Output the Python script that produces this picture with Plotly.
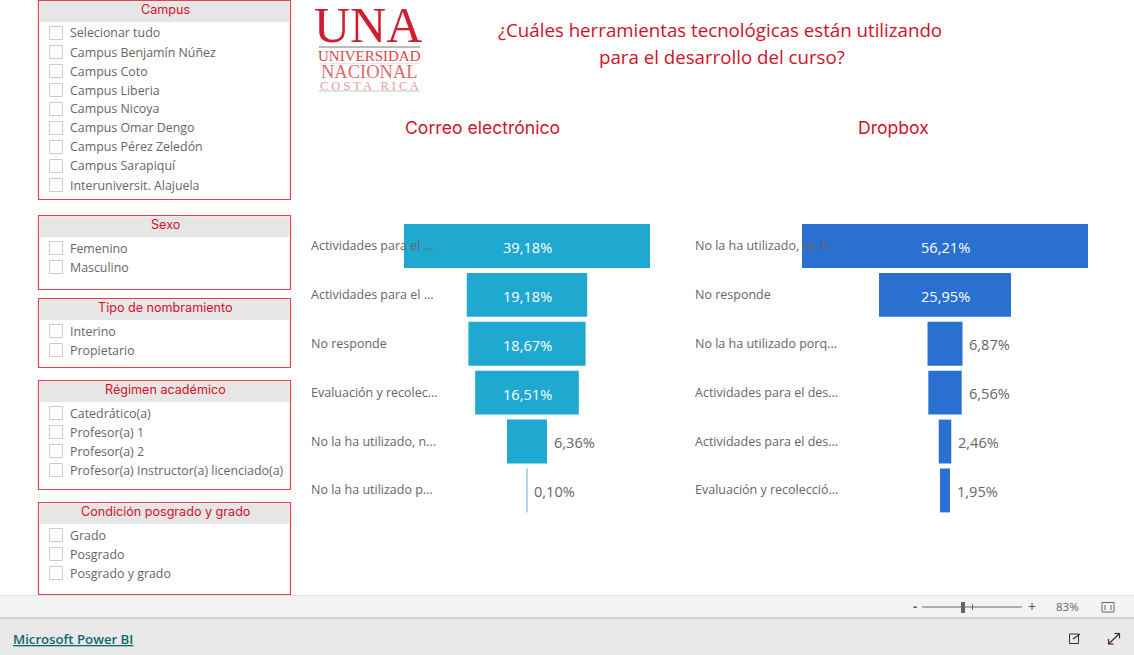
import plotly.graph_objects as go

W, H = 1134, 655
RED = "#d0112b"
BORDER = "#e5404b"
GRAY_TXT = "#666666"
LABEL_FONT = "Open Sans"
HEAD_FONT = "Inter"

# ---- data ----
correo_labels = ["Actividades para el ...", "Actividades para el ...", "No responde",
                 "Evaluación y recolec...", "No la ha utilizado, n...", "No la ha utilizado p..."]
correo_values = [39.18, 19.18, 18.67, 16.51, 6.36, 0.10]
correo_inside = [True, True, True, True, False, False]
correo_colors = ["#1fa8d0", "#1fa8d0", "#1fa8d0", "#1fa8d0", "#1fa8d0", "#a9d9ea"]

dropbox_labels = ["No la ha utilizado, no h...", "No responde", "No la ha utilizado porq...",
                  "Actividades para el des...", "Actividades para el des...", "Evaluación y recolecció..."]
dropbox_values = [56.21, 25.95, 6.87, 6.56, 2.46, 1.95]
dropbox_inside = [True, True, False, False, False, False]
dropbox_colors = ["#2a70d0"] * 6

ranks = [0, 1, 2, 3, 4, 5]

slicers = [
    ("Campus", ["Selecionar tudo", "Campus Benjamín Núñez", "Campus Coto", "Campus Liberia", "Campus Nicoya",
                "Campus Omar Dengo", "Campus Pérez Zeledón", "Campus Sarapiquí", "Interuniversit. Alajuela"], 0, 199),
    ("Sexo", ["Femenino", "Masculino"], 215, 289),
    ("Tipo de nombramiento", ["Interino", "Propietario"], 298, 367),
    ("Régimen académico", ["Catedrático(a)", "Profesor(a) 1", "Profesor(a) 2",
                           "Profesor(a) Instructor(a) licenciado(a)"], 380, 489),
    ("Condición posgrado y grado", ["Grado", "Posgrado", "Posgrado y grado"], 502, 594),
]

# ---- helpers in page pixels ----
px = lambda x: x / W
py = lambda y: 1 - y / H
shapes, ann = [], []


def rect(x0, y0, x1, y1, fill="rgba(0,0,0,0)", line=None, lw=1):
    shapes.append(dict(type="rect", xref="paper", yref="paper", x0=px(x0), x1=px(x1), y0=py(y0), y1=py(y1),
                       fillcolor=fill, line=dict(color=line or "rgba(0,0,0,0)", width=lw if line else 0)))


def seg(x0, y0, x1, y1, color, lw=1):
    shapes.append(dict(type="line", xref="paper", yref="paper", x0=px(x0), x1=px(x1), y0=py(y0), y1=py(y1),
                       line=dict(color=color, width=lw)))


def text(x, y, s, size, color, font=LABEL_FONT, anchor="left", weight=None, height=None):
    f = dict(size=size, color=color, family=font)
    if weight:
        f["weight"] = weight
    a = dict(xref="paper", yref="paper", x=px(x), y=py(y), text=s, showarrow=False, xanchor=anchor,
             yanchor="middle", font=f, align=anchor, borderpad=0, borderwidth=0)
    if height:
        a["height"] = height
    ann.append(a)


# ---- slicers ----
for title, items, top, bottom in slicers:
    rect(38.5, top + 0.5, 290.5, bottom + 0.5, fill="white", line=BORDER, lw=1.2)
    rect(39.5, top + 1.2, 289.5, top + 22, fill="#e6e6e6")
    text(165, top + 9.5, title, 12.6, RED, HEAD_FONT, "center")
    for i, item in enumerate(items):
        cy = top + 33 + 19 * i
        rect(49.5, cy - 6.5, 62.5, cy + 6.5, fill="white", line="#c9ccd6", lw=1)
        text(69.5, cy, item, 12.4, GRAY_TXT)

# ---- logo ----
text(368, 25, "UNA", 50, "#cf1f2e", "Liberation Serif", "center", height=36)
seg(319, 47, 420, 47, "#bbbbbb", 2)
text(369.5, 56, "UNIVERSIDAD", 15, "#d8474f", "Liberation Serif", "center", height=13)
seg(319, 63.5, 420, 63.5, "#e8e8e8", 1)
text(369.5, 72, "NACIONAL", 18.5, "#e0686e", "Liberation Serif", "center", height=14)
text(369.5, 85.5, "C O S T A   R I C A", 12.4, "#e79a9d", "Liberation Serif", "center", height=9)
seg(319, 91, 420, 91, "#c4c4c4", 1)

# ---- titles ----
text(720, 30, "¿Cuáles herramientas tecnológicas están utilizando", 18.7, RED, LABEL_FONT, "center")
text(722, 57, "para el desarrollo del curso?", 18.7, RED, LABEL_FONT, "center")
text(482, 127, "Correo electrónico", 17.6, RED, HEAD_FONT, "center")
text(893, 127, "Dropbox", 17.6, RED, HEAD_FONT, "center")

# ---- bottom chrome ----
rect(0, 595.5, W, 618, fill="#f3f3f3")
seg(0, 595.5, W, 595.5, "#e3e3e3", 1)
rect(0, 618, W, H, fill="#e9e9e9")
seg(0, 618, W, 618, "#c8c8c8", 1.5)
text(13, 639, "<u>Microsoft Power BI</u>", 13.2, "#0f6a6e", LABEL_FONT, weight=600)
text(915, 606, "-", 13, "#555555", LABEL_FONT, "center", 700)
seg(922, 607, 1022, 607, "#666666", 1)
rect(961, 602, 965, 613, fill="#666666")
seg(972.5, 604, 972.5, 610, "#666666", 1)
text(1032, 606, "+", 14, "#555555", LABEL_FONT, "center")
text(1067, 606.5, "83%", 11.5, "#666666", LABEL_FONT, "center")
rect(1102, 602.5, 1114, 612, line="#666666", lw=1)
seg(1105, 605, 1105, 610, "#666666", 1)
seg(1111, 605, 1111, 610, "#666666", 1)
# share icon
rect(1069.5, 634, 1078.5, 643.5, line="#333333", lw=1)
seg(1073, 639, 1080, 634, "#333333", 1.3)
# expand icon
seg(1108.5, 644, 1119.5, 633.5, "#333333", 1.2)
seg(1108.5, 644, 1108.5, 639, "#6a0f4f", 1.2)
seg(1108.5, 644, 1113.5, 644, "#6a0f4f", 1.2)
seg(1119.5, 633.5, 1114.5, 633.5, "#333333", 1.2)
seg(1119.5, 633.5, 1119.5, 638.5, "#333333", 1.2)

# ---- funnels ----
fig = go.Figure()
Y_TOP, Y_BOT = 221.5, 514.9
GAP = 5 / 48.9


def add_funnel(values, colors, xa, ya):
    fig.add_trace(go.Funnel(
        x=values, y=ranks, orientation="h", xaxis=xa, yaxis=ya,
        marker=dict(color=colors, line=dict(width=0)),
        connector=dict(visible=False), textinfo="none", hoverinfo="x+y",
    ))


add_funnel(correo_values, correo_colors, "x", "y")
add_funnel(dropbox_values, dropbox_colors, "x2", "y2")

hidden = dict(visible=False, fixedrange=True)
half1 = correo_values[0] / 2
half2 = dropbox_values[0] / 2
yrange = [5.5, -0.5]
ydom = [py(Y_BOT), py(Y_TOP)]

panels = ((correo_labels, correo_values, correo_inside, "x", "y", 309.5),
          (dropbox_labels, dropbox_values, dropbox_inside, "x2", "y2", 693.5))
for labels, values, inside, xref, yref, x0 in panels:
    for r, lab, v, ins in zip(ranks, labels, values, inside):
        ann.append(dict(xref="paper", yref=yref, x=px(x0), y=r, text=lab, showarrow=False, xanchor="left",
                        yanchor="middle", borderpad=0, yshift=0.5,
                        font=dict(size=12.5, color=GRAY_TXT, family=LABEL_FONT)))
        label = f"{v:.2f}".replace(".", ",") + "%"
        if ins:
            ann.append(dict(xref=xref, yref=yref, x=0, y=r, text=label, showarrow=False, xanchor="center",
                            yanchor="middle", borderpad=0, yshift=-1.5,
                            font=dict(size=14.6, color="white", family=LABEL_FONT)))
        else:
            ann.append(dict(xref=xref, yref=yref, x=v / 2, y=r, text=label, showarrow=False, xanchor="left",
                            yanchor="middle", borderpad=0, xshift=6, yshift=-0.5,
                            font=dict(size=14.6, color=GRAY_TXT, family=LABEL_FONT)))

fig.update_layout(
    width=W, height=H, margin=dict(l=0, r=0, t=0, b=0), autosize=False,
    paper_bgcolor="white", plot_bgcolor="rgba(0,0,0,0)", showlegend=False,
    funnelgap=GAP, funnelmode="overlay",
    xaxis=dict(domain=[px(404), px(650)], range=[-half1, half1], anchor="y", **hidden),
    yaxis=dict(domain=ydom, range=yrange, anchor="x", **hidden),
    xaxis2=dict(domain=[px(802), px(1088)], range=[-half2, half2], anchor="y2", **hidden),
    yaxis2=dict(domain=ydom, range=yrange, anchor="x2", **hidden),
    shapes=shapes, annotations=ann,
)

fig.write_html("out.html", config=dict(displayModeBar=False),
               post_script="document.body.style.margin='0';document.body.style.overflow='hidden';")
